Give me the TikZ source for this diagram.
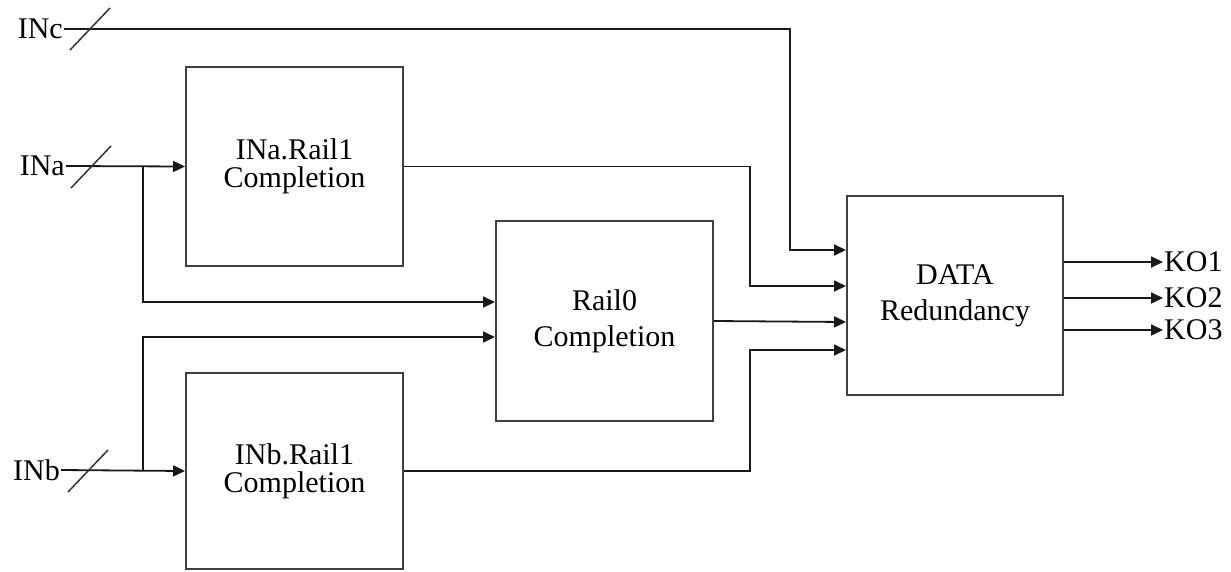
\documentclass[tikz,border=0pt]{standalone}
\usepackage{fontspec}
\setmainfont{Liberation Serif}
\usetikzlibrary{arrows.meta}
\begin{document}
\begin{tikzpicture}[x=1pt, y=-1pt,
    every node/.style = {font=\fontsize{30}{36}\selectfont, align=center},
    block/.style = {shape=rectangle, draw=black!75, line width=2pt,
      minimum width=217pt, inner sep=0pt},
    port/.style = {inner sep=1pt},
    wire/.style = {draw=black!90, line width=1.8pt},
    arrow/.style = {wire, -{Triangle[length=12pt,width=11pt]}},
    slash/.style = {draw=black!80, line width=1.5pt}]
  \useasboundingbox (0,0) rectangle (1231,571);
  % blocks
  \node[block, minimum height=199pt] (ina) at (294.5,166.5) {INa.Rail1\\[-8pt]Completion};
  \node[block, minimum height=200pt] (rail0) at (604.5,321) {Rail0\\Completion};
  \node[block, minimum height=196pt] (inb) at (294.5,471) {INb.Rail1\\[-8pt]Completion};
  \node[block, minimum height=199pt, minimum width=216pt] (data) at (955,295.5) {DATA\\Redundancy};
  % inputs
  \node[port, anchor=east] (inc-in) at (64,29) {INc};
  \node[port, anchor=east] (ina-in) at (66,166) {INa};
  \node[port, anchor=east] (inb-in) at (61,470) {INb};
  % outputs
  \node[port, anchor=west] (ko1) at (1163,262) {KO1};
  \node[port, anchor=west] (ko2) at (1163,298) {KO2};
  \node[port, anchor=west] (ko3) at (1163,330) {KO3};
  % data inputs and junctions
  \coordinate (d1) at ([yshift=45.5pt]data.west);
  \coordinate (d2) at ([yshift=9.5pt]data.west);
  \coordinate (d3) at ([yshift=-26.5pt]data.west);
  \coordinate (d4) at ([yshift=-54.5pt]data.west);
  \coordinate (ja) at (143,166);
  \coordinate (jb) at (143,470);
  % wires
  \draw[arrow] (inc-in.east) -| ([xshift=-56pt]d1) -- (d1);
  \draw[arrow] (ina-in.east) -- (ina.west);
  \draw[arrow] (inb-in.east) -- (inb.west);
  \draw[arrow] (ja) |- ([yshift=19pt]rail0.west);
  \draw[arrow] (jb) |- ([yshift=-16pt]rail0.west);
  \draw[arrow] (ina.east) -| ([xshift=-96pt]d2) -- (d2);
  \draw[arrow] (rail0.east) -- (d3);
  \draw[arrow] (inb.east) -| ([xshift=-96pt]d4) -- (d4);
  \foreach \k in {ko1,ko2,ko3}
    \draw[arrow] (data.east|-\k.west) -- (\k.west);
  % bus slashes
  \foreach \s in {(90,29),(91,167),(88,471)}
    \draw[slash] \s ++(-20,21) -- ++(40,-42);
\end{tikzpicture}
\end{document}
